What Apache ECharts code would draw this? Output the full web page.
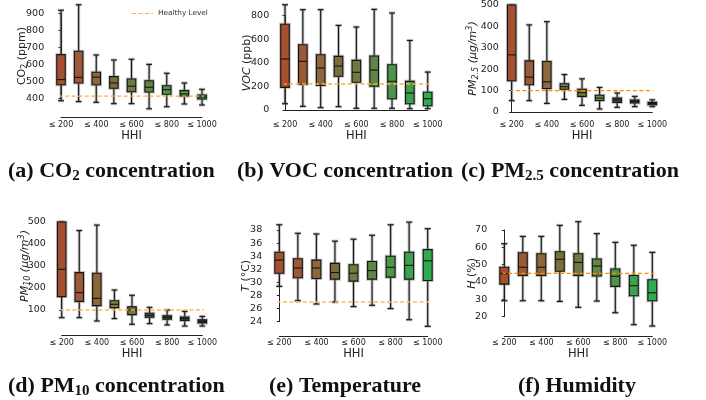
<!DOCTYPE html>
<html>
<head>
<meta charset="utf-8">
<script src="https://cdn.jsdelivr.net/npm/echarts@6/dist/echarts.min.js"></script>
<style>
  html, body { margin: 0; padding: 0; background: #fff; }
  #chart { width: 706px; height: 400px; }
</style>
</head>
<body>
<div id="chart"></div>
<script>
// HHI buckets, one box per bucket; only every other one gets a label
const hhiBuckets = ['≤ 200', '≤ 300', '≤ 400', '≤ 500', '≤ 600', '≤ 700', '≤ 800', '≤ 900', '≤ 1000'];
const hhiTicks = ['≤ 200', '≤ 400', '≤ 600', '≤ 800', '≤ 1000'];

// each row: [min, Q1, median, Q3, max]
const co2 = [
  [388, 482, 512, 658, 918], [383, 492, 525, 678, 950], [379, 482, 526, 555, 656],
  [371, 461, 492, 529, 627], [371, 441, 473, 515, 631], [341, 439, 467, 505, 601],
  [353, 426, 453, 476, 549], [369, 416, 428, 447, 492], [363, 398, 410, 422, 455]
];
const voc = [
  [53, 192, 433, 727, 893], [31, 218, 413, 554, 851], [20, 209, 356, 469, 851],
  [28, 286, 373, 455, 718], [14, 235, 320, 421, 704], [14, 201, 339, 458, 854],
  [14, 96, 243, 384, 823], [11, 53, 144, 243, 590], [11, 36, 96, 150, 322]
];
const pm25 = [
  [53, 146, 267, 500, 500], [53, 127, 163, 239, 407], [40, 110, 141, 236, 422],
  [59, 106, 118, 132, 175], [31, 73, 90, 106, 155], [14, 54, 65, 78, 115],
  [22, 45, 56, 65, 89], [25, 42, 50, 56, 73], [25, 34, 40, 45, 57]
];
const pm10 = [
  [65, 161, 285, 500, 500], [65, 139, 179, 270, 461], [50, 120, 153, 267, 486],
  [61, 111, 126, 142, 191], [35, 79, 100, 114, 167], [38, 67, 76, 85, 112],
  [32, 58, 67, 74, 100], [27, 52, 61, 68, 94], [27, 41, 48, 55, 71]
];
const temperature = [
  [29.4, 31.4, 33.4, 34.6, 38.8], [27.2, 30.7, 32.2, 33.6, 37.5], [26.7, 30.6, 32.2, 33.4, 37.4],
  [27.0, 30.5, 31.5, 32.9, 36.3], [26.3, 30.2, 31.4, 32.7, 36.6], [26.5, 30.5, 31.8, 33.2, 37.2],
  [26.0, 30.8, 32.3, 34.0, 38.8], [24.3, 30.5, 32.6, 34.6, 39.2], [23.3, 30.3, 33.3, 35.0, 38.2]
];
const humidity = [
  [29.2, 38.8, 44.8, 48.5, 62.1], [29.2, 43.8, 48.5, 56.9, 66.3], [29.2, 43.8, 48.5, 56.3, 66.3],
  [28.8, 46.2, 53.1, 57.5, 72.7], [25.4, 43.8, 51.3, 56.3, 74.8], [29.0, 43.5, 49.2, 53.3, 67.9],
  [22.3, 37.5, 43.3, 47.5, 62.9], [15.4, 32.1, 37.9, 43.8, 61.2], [14.6, 29.2, 33.8, 41.3, 57.1]
];

// healthy reference levels
const healthyCo2 = 415;
const healthyVoc = 220;
const healthyPm25 = 100;
const healthyPm10 = 100;
const healthyTemp = 27;
const healthyHum = 45;

const warmToGreen = ['#a5502e', '#9b5a35', '#8d6739', '#7c6e3c', '#6e7a42', '#5e8646', '#4e9548', '#3da24d', '#2eab4e'];
const darkTail25 = ['#a5502e', '#9a5b37', '#8c6a3a', '#827a3e', '#7a7c35', '#6a8f4a', '#335f38', '#2e5834', '#2b5531'];
const darkTail10 = ['#a5502e', '#9c5a35', '#8c6538', '#857a36', '#6f7b3a', '#3a5e37', '#2f5632', '#2d5331', '#2a4f2e'];

const FONT = 'DejaVu Sans';

const nameRich = {
  n: { fontFamily: FONT, fontSize: 11, color: '#222', lineHeight: 14 },
  i: { fontFamily: FONT, fontSize: 11, color: '#222', lineHeight: 14, fontStyle: 'italic' },
  s: { fontFamily: FONT, fontSize: 8, color: '#222', lineHeight: 8, verticalAlign: 'bottom' },
  si: { fontFamily: FONT, fontSize: 8, color: '#222', lineHeight: 8, verticalAlign: 'bottom', fontStyle: 'italic' },
  u: { fontFamily: FONT, fontSize: 8, color: '#222', lineHeight: 8, verticalAlign: 'top', fontStyle: 'italic' }
};

const panels = [
  { data: co2, level: healthyCo2, colors: warmToGreen, lineColor: '#ffae45',
    yMin: 400, yMax: 900, step: 100, name: '{n|CO}{s|2}{n| (ppm)}', gap: 19,
    left: 61, width: 141, top: 13.3, height: 85.4, xOff: 19, yOff: 13.3 },
  { data: voc, level: healthyVoc, colors: warmToGreen, lineColor: '#ffae45',
    yMin: 0, yMax: 800, step: 200, name: '{i|VOC}{n| (ppb)}', gap: 19,
    left: 285, width: 142.7, top: 15.7, height: 94.3, xOff: 7.7, yOff: 12.3 },
  { data: pm25, level: healthyPm25, colors: darkTail25, lineColor: '#ff8c00',
    yMin: 0, yMax: 500, step: 100, name: '{i|PM}{si|2.5}{i| (μg/m}{u|3}{i|)}', gap: 22,
    left: 511.7, width: 140.6, top: 4.7, height: 107.3, xOff: 5.7, yOff: 9.4 },
  { data: pm10, level: healthyPm10, colors: darkTail10, lineColor: '#ffb555',
    yMin: 100, yMax: 500, step: 100, name: '{i|PM}{si|10}{i| (μg/m}{u|3}{i|)}', gap: 17,
    left: 61.7, width: 140.6, top: 222, height: 88, xOff: 25.7, yOff: 12.4 },
  { data: temperature, level: healthyTemp, colors: warmToGreen, lineColor: '#ffb86a',
    yMin: 24, yMax: 38, step: 2, name: '{i|T}{n| (°C)}', gap: 13,
    left: 279.3, width: 148.4, top: 230, height: 91.7, xOff: 14.3, yOff: 13.6 },
  { data: humidity, level: healthyHum, colors: warmToGreen, lineColor: '#ff8c00',
    yMin: 20, yMax: 70, step: 10, name: '{i|H}{n| (%)}', gap: 12,
    left: 504.3, width: 148, top: 230, height: 86.7, xOff: 19.3, yOff: 13.6 }
];

const captions = [
  { text: '{b|(a) CO}{s|2}{b| concentration}', left: 8, top: 159 },
  { text: '{b|(b) VOC concentration}', left: 237, top: 159 },
  { text: '{b|(c) PM}{s|2.5}{b| concentration}', left: 461, top: 159 },
  { text: '{b|(d) PM}{s|10}{b| concentration}', left: 8, top: 374 },
  { text: '{b|(e) Temperature}', left: 269, top: 374 },
  { text: '{b|(f) Humidity}', left: 518, top: 374 }
];

const captionRich = {
  b: { fontFamily: 'Liberation Serif', fontWeight: 'bold', fontSize: 22, color: '#111', lineHeight: 25 },
  s: { fontFamily: 'Liberation Serif', fontWeight: 'bold', fontSize: 15, color: '#111', lineHeight: 15, verticalAlign: 'bottom' }
};

function boxRenderer(colors) {
  return function (params, api) {
    const x = api.value(0);
    const lo = api.coord([x, api.value(1)]);
    const q1 = api.coord([x, api.value(2)]);
    const md = api.coord([x, api.value(3)]);
    const q3 = api.coord([x, api.value(4)]);
    const hi = api.coord([x, api.value(5)]);
    const w = api.size([0.48, 0])[0];
    const cap = w * 0.7;
    const cx = lo[0];
    const halo = { stroke: 'rgba(120,120,120,0.45)', lineWidth: 3, fill: null };
    const ink = { stroke: '#151515', lineWidth: 1.1, fill: null };
    const segs = [
      [cx, hi[1], cx, q3[1]],
      [cx, q1[1], cx, lo[1]],
      [cx - cap / 2, hi[1], cx + cap / 2, hi[1]],
      [cx - cap / 2, lo[1], cx + cap / 2, lo[1]]
    ];
    const children = [];
    segs.forEach(s => children.push({ type: 'line', shape: { x1: s[0], y1: s[1], x2: s[2], y2: s[3] }, style: halo }));
    segs.forEach(s => children.push({ type: 'line', shape: { x1: s[0], y1: s[1], x2: s[2], y2: s[3] }, style: ink }));
    const rect = { x: cx - w / 2, y: q3[1], width: w, height: q1[1] - q3[1] };
    children.push({ type: 'rect', shape: rect, style: { fill: null, stroke: 'rgba(120,120,120,0.45)', lineWidth: 3 } });
    children.push({ type: 'rect', shape: rect, style: { fill: colors[params.dataIndex], stroke: '#151515', lineWidth: 1.1 } });
    children.push({ type: 'line', shape: { x1: cx - w / 2, y1: md[1], x2: cx + w / 2, y2: md[1] }, style: ink });
    return { type: 'group', children: children };
  };
}

const grid = [], xAxis = [], yAxis = [], series = [];
panels.forEach((p, k) => {
  grid.push({ left: p.left, top: p.top, width: p.width, height: p.height });
  xAxis.push({
    type: 'value', gridIndex: k, min: 0, max: hhiBuckets.length - 1, interval: 2,
    offset: p.xOff, splitLine: { show: false }, axisTick: { show: false },
    axisLine: { lineStyle: { color: '#222', width: 1 } },
    axisLabel: { fontFamily: FONT, fontSize: 8, color: '#222', margin: 3,
      showMinLabel: true, showMaxLabel: true, formatter: v => hhiTicks[v / 2] },
    name: 'HHI', nameLocation: 'middle', nameGap: 12, nameMoveOverlap: false,
    nameTextStyle: { fontFamily: FONT, fontSize: 11.5, color: '#222', verticalAlign: 'top' }
  });
  yAxis.push({
    type: 'value', gridIndex: k, min: p.yMin, max: p.yMax, interval: p.step,
    offset: p.yOff, splitLine: { show: false },
    axisTick: { show: true, length: 2.5, lineStyle: { color: '#222' } },
    axisLine: { show: true, lineStyle: { color: '#222', width: 1 } },
    axisLabel: { fontFamily: FONT, fontSize: 9.5, color: '#222', margin: 3.5 },
    name: p.name, nameLocation: 'middle', nameRotate: 90, nameGap: p.gap, nameMoveOverlap: false,
    nameTextStyle: { rich: nameRich }
  });
  series.push({
    type: 'line', name: 'Healthy Level', xAxisIndex: k, yAxisIndex: k, clip: false,
    symbol: 'none', silent: true, z: 5,
    data: [[-0.5, p.level], [hhiBuckets.length - 0.5, p.level]],
    lineStyle: { color: p.lineColor, width: 1.4, type: [4, 2.5] }, itemStyle: { color: p.lineColor }
  });
  series.push({
    type: 'custom', name: 'box' + k, xAxisIndex: k, yAxisIndex: k, z: 3,
    renderItem: boxRenderer(p.colors),
    encode: { x: 0, y: [1, 2, 3, 4, 5] },
    data: p.data.map((r, i) => [i].concat(r))
  });
});

const chart = echarts.init(document.getElementById('chart'), null, { renderer: 'canvas' });
chart.setOption({
  animation: false,
  backgroundColor: '#fff',
  grid: grid,
  xAxis: xAxis,
  yAxis: yAxis,
  legend: {
    data: ['Healthy Level'], left: 127, top: 5, itemWidth: 21, itemHeight: 1.4, itemGap: 4,
    icon: 'path://M0,0h4v1h-4z M6.5,0h4v1h-4z M13,0h4v1h-4z M19.5,0h1.5v1h-1.5z',
    textStyle: { fontFamily: FONT, fontSize: 7.3, color: '#333', padding: [0, 0, 0, 0] }
  },
  title: captions.map(c => ({ text: c.text, left: c.left, top: c.top, padding: 0, textStyle: { rich: captionRich } })),
  series: series
});
</script>
</body>
</html>
